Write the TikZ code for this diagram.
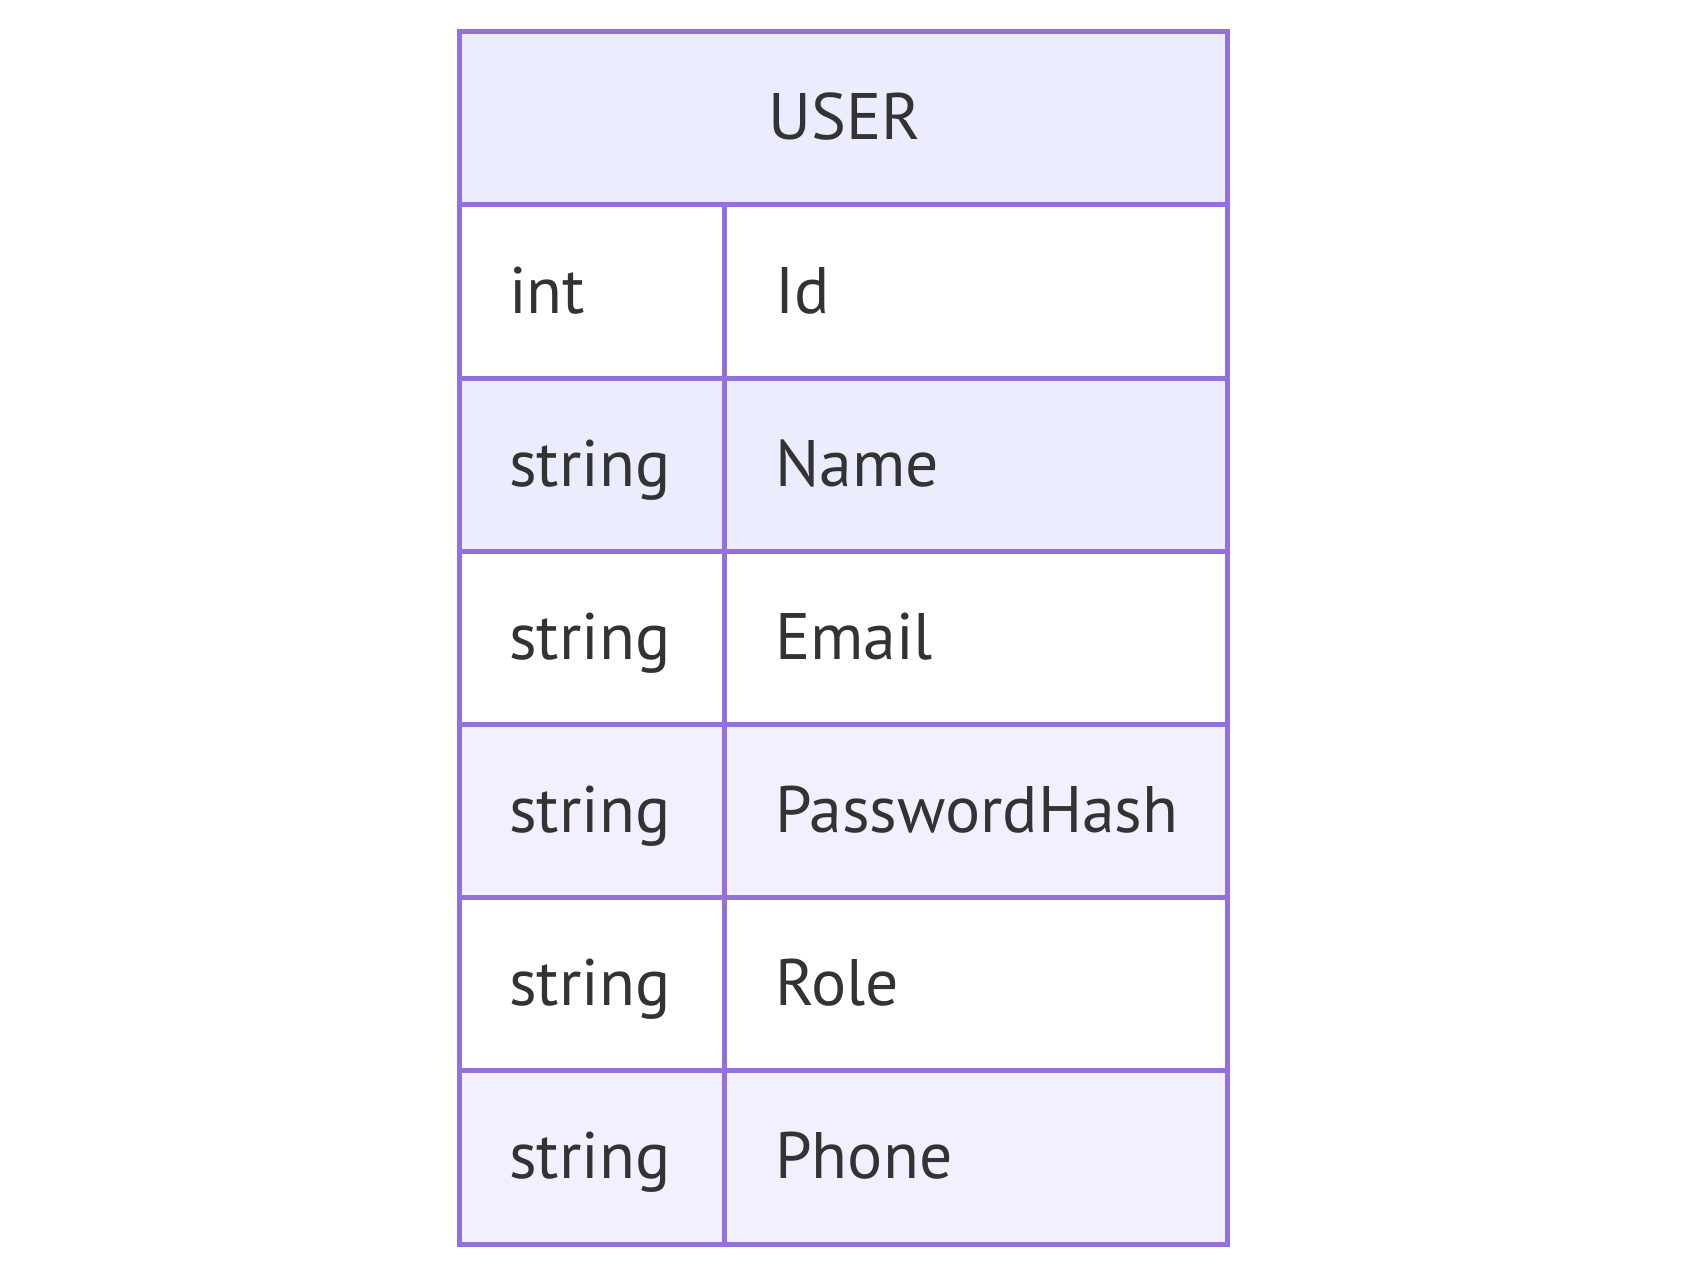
\documentclass[tikz,border=0pt]{standalone}
\usepackage{fontspec}
\setmainfont{PT Sans}
\definecolor{edge}{HTML}{9370DB}
\definecolor{hdr}{HTML}{ECECFF}
\definecolor{rowA}{HTML}{ECECFF}
\definecolor{rowB}{HTML}{F2F0FF}
\definecolor{txt}{HTML}{333333}
\tikzset{
  gridline/.style={draw=edge, line width=5pt},
  celltext/.style={anchor=base west, inner sep=0pt, text=txt, font=\fontsize{65.7}{80}\selectfont},
  headtext/.style={anchor=base, inner sep=0pt, text=txt, font=\fontsize{65.7}{80}\selectfont},
}
\begin{document}
\begin{tikzpicture}[x=1pt,y=-1pt]
\useasboundingbox (0,0) rectangle (1687,1276);
\fill[white] (0,0) rectangle (1687,1276);
% backgrounds
\fill[hdr] (459,32) rectangle (1227,205);
\fill[rowA] (459,378) rectangle (1227,551);
\fill[rowB] (459,724) rectangle (1227,897);
\fill[rowB] (459,1070) rectangle (1227,1244);
% grid
\draw[gridline] (459,32) rectangle (1227,1244);
\foreach \yy in {205,378,551,724,897,1070}
  \draw[gridline] (459,\yy) -- (1227,\yy);
\draw[gridline] (724,205) -- (724,1244);
% texts
\node[headtext] (title) at (845,140) {USER};
\node[celltext] (t1) at (509,313) {int};
\node[celltext] (n1) at (775,313) {Id};
\node[celltext] (t2) at (509,486) {string};
\node[celltext] (n2) at (775,486) {Name};
\node[celltext] (t3) at (509,659) {string};
\node[celltext] (n3) at (775,659) {Email};
\node[celltext] (t4) at (509,832) {string};
\node[celltext] (n4) at (775,832) {PasswordHash};
\node[celltext] (t5) at (509,1005) {string};
\node[celltext] (n5) at (775,1005) {Role};
\node[celltext] (t6) at (509,1178) {string};
\node[celltext] (n6) at (775,1178) {Phone};
\end{tikzpicture}
\end{document}
